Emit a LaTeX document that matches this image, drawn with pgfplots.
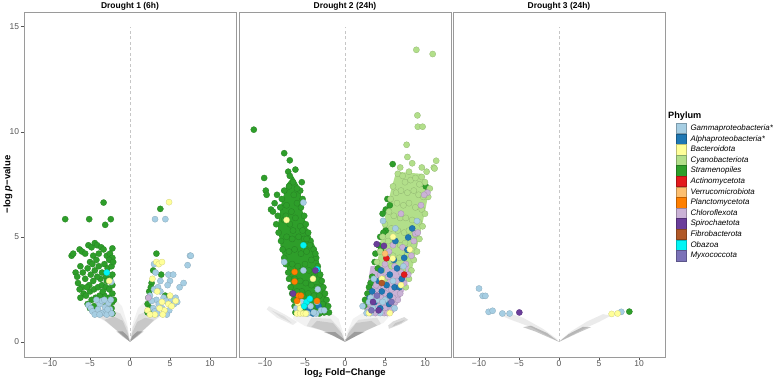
\documentclass[border=0pt]{standalone}
\usepackage{fontspec}
\setmainfont{Liberation Sans}
\usepackage{pgfplots}
\pgfplotsset{compat=1.18}

% Phylum palette
\definecolor{gammaC}{HTML}{A6CEE3}
\definecolor{alphaC}{HTML}{1F78B4}
\definecolor{bactC}{HTML}{FFFF99}
\definecolor{cyanoC}{HTML}{B2DF8A}
\definecolor{stramC}{HTML}{2E9E2A}
\definecolor{actinoC}{HTML}{E31A1C}
\definecolor{verruC}{HTML}{FDBF6F}
\definecolor{planctoC}{HTML}{FF7F00}
\definecolor{chloroC}{HTML}{CAB2D6}
\definecolor{spiroC}{HTML}{6A3D9A}
\definecolor{fibroC}{HTML}{B15928}
\definecolor{obazoaC}{HTML}{00F5F5}
\definecolor{myxoC}{HTML}{7B72B8}
\definecolor{framegray}{HTML}{9A9A9A}
\definecolor{tickgray}{HTML}{555555}

\pgfplotsset{
  panel/.style={
    scale only axis, width=212bp, height=345bp,
    xmin=-13.25, xmax=13.25, ymin=-0.72, ymax=15.7,
    xtick={-10,-5,0,5,10}, xticklabels={−10,−5,0,5,10},
    ytick={0,5,10,15}, yticklabels={0,5,10,15},
    /pgf/number format/assume math mode=true,
    tick align=outside, xtick pos=left, ytick pos=left,
    major tick length=3bp,
    tick style={tickgray, line width=0.5pt},
    axis line style={framegray, line width=0.9pt},
    ticklabel style={font=\fontsize{8.5}{9}\selectfont, text=tickgray},
    xticklabel style={yshift=2.8bp},
    yticklabel style={xshift=1.5bp},
    title style={font=\bfseries\fontsize{8.5}{9}\selectfont, at={(0.5,1)},
      anchor=base, yshift=-2bp, inner sep=0pt},
    anchor=south west,
  },
  phy/.style={only marks, mark=*, mark size=3.1bp, forget plot,
    mark options={fill=#1, draw=#1!80!black, line width=0.25pt}},
  cloud/.style={fill=black, fill opacity=#1, draw=none, forget plot},
  body/.style={fill=#1, draw=none, forget plot},
  zeroline/.style={forget plot, gray!45, line width=0.6pt, dash pattern=on 3bp off 2.5bp},
  legkey/.style={legend image code/.code={%
    \fill[fill=#1, draw=#1!75!black, line width=0.3pt] (0bp,-5.15bp) rectangle (10bp,5.15bp);}},
}

\begin{document}
\begin{tikzpicture}
\useasboundingbox (0,0) rectangle (776bp,380bp);

% ---------------- Drought 1 (6h) ----------------
\begin{axis}[panel, at={(24bp,23bp)}, title={Drought 1 (6h)},
  ylabel={\bfseries −log \textit{p}−value},
  ylabel style={font=\fontsize{9.5}{10}\selectfont, at={(axis description cs:-0.0755,0.5)},
    anchor=center}]
% non-significant cloud
\addplot[cloud=0.05] coordinates {(0,0) (-1.5,0.5) (-3.2,1.0) (-4.8,1.3) (-4.0,1.8) (-2.0,2.1) (-1.0,1.7) (-0.35,0.9) (-0.05,0.15)} --cycle;
\addplot[cloud=0.05] coordinates {(0,0) (1.5,0.5) (3.0,1.0) (4.2,1.3) (3.5,1.8) (2.0,2.0) (1.0,1.6) (0.35,0.9) (0.05,0.15)} --cycle;
\addplot[cloud=0.08] coordinates {(0,0) (-1.4,0.45) (-2.9,0.95) (-3.9,1.2) (-2.6,1.55) (-1.2,1.35) (-0.35,0.7)} --cycle;
\addplot[cloud=0.08] coordinates {(0,0) (1.4,0.45) (2.8,0.95) (3.6,1.2) (2.4,1.5) (1.1,1.3) (0.35,0.7)} --cycle;
\addplot[cloud=0.10] coordinates {(0,0) (-1.2,0.4) (-2.6,0.85) (-3.2,1.05) (-2.0,1.2) (-0.9,1.0) (-0.3,0.45)} --cycle;
\addplot[cloud=0.10] coordinates {(0,0) (1.2,0.4) (2.5,0.85) (3.0,1.05) (1.9,1.15) (0.9,0.95) (0.3,0.45)} --cycle;
\addplot[cloud=0.22] coordinates {(0,0) (-0.8,0.22) (-1.7,0.5) (-0.9,0.5) (-0.3,0.28)} --cycle;
\addplot[cloud=0.22] coordinates {(0,0) (0.8,0.22) (1.7,0.5) (0.9,0.5) (0.3,0.28)} --cycle;
\addplot[zeroline] coordinates {(0,0) (0,15)};
% Stramenopiles
\addplot[phy=stramC] coordinates {
(-8.1,5.84) (-5.1,5.84) (-3.3,6.63) (-3.1,5.57) (-2.4,5.84)
(-7.3,4.1) (-7.1,4.2) (-6.3,4.4) (-6.0,4.3) (-5.2,4.6) (-4.8,4.5) (-4.4,4.7) (-4.1,4.6) (-3.6,4.5) (-3.3,4.4) (-2.2,4.45)
(-5.6,4.2) (-4.6,4.1) (-3.9,4.2) (-2.9,4.1) (-2.5,4.2) (-2.2,4.0) (-2.6,3.9)
(-6.8,3.3) (-6.6,3.1) (-6.2,3.6) (-5.9,3.3) (-5.6,3.0) (-5.3,3.5) (-5.0,3.8) (-4.7,3.7) (-4.4,3.4) (-4.2,3.9) (-3.9,3.6)
(-3.5,3.3) (-3.2,3.7) (-2.8,3.5) (-2.3,3.6) (-2.2,3.2) (-2.5,3.0) (-3.0,3.1) (-3.7,3.0) (-4.1,3.1) (-4.6,2.9) (-5.1,2.7)
(-6.0,2.6) (-6.3,2.5) (-6.5,2.8) (-5.8,2.3) (-6.2,2.1) (-5.5,2.2) (-5.0,2.4) (-4.5,2.5) (-4.0,2.6) (-3.5,2.7) (-3.0,2.6)
(-2.6,2.5) (-2.2,2.7) (-2.2,2.3) (-2.6,2.1) (-3.2,2.2) (-3.8,2.2) (-4.3,2.1) (-4.8,2.0) (-5.3,1.8) (-5.0,1.6) (-4.5,1.7)
(-2.2,1.9) (-2.3,1.6) (-2.2,1.35) (-2.6,1.4) (-3.0,1.7) (-2.0,2.0) (-2.1,3.8) (-2.9,2.9) (-3.4,2.4) (-4.9,3.2) (-5.4,2.6)
(3.79,6.33) (3.3,4.2) (2.9,3.4) (3.9,3.2) (2.7,2.8) (2.4,2.4) (2.3,2.1) (2.2,1.8) (2.2,1.4) (2.5,1.6) (4.4,2.2) (2.6,2.6) (2.8,1.35)
};
% Gammaproteobacteria
\addplot[phy=gammaC] coordinates {
(-5.2,1.75) (-4.9,1.6) (-4.7,1.45) (-4.4,1.3) (-4.0,1.55) (-3.8,1.8) (-3.5,1.95) (-3.3,1.4) (-3.1,1.65) (-2.9,1.3)
(-2.7,1.85) (-2.5,1.55) (-2.4,2.0) (-3.6,1.35) (-4.2,2.0) (-2.3,1.35) (-2.8,1.55) (-2.35,2.85) (-3.8,1.3) (-3.2,2.0)
(3.13,5.84) (4.42,5.84) (7.5,4.1) (7.6,4.1) (7.2,3.65) (3.0,3.7) (3.2,3.3) (4.8,3.2) (5.4,3.2) (5.0,2.9) (4.7,2.7)
(6.2,2.6) (6.7,2.8) (3.0,2.5) (3.5,2.6) (3.8,2.4) (4.2,2.1) (3.3,2.0) (2.7,1.95) (2.9,1.6) (3.1,1.45) (3.6,1.8)
(4.0,1.6) (4.5,1.95) (5.2,2.0) (5.7,2.1) (5.9,1.9) (4.9,1.5) (3.4,1.35) (4.6,1.3) (5.5,1.8) (3.8,2.9) (2.5,2.2)
};
% Bacteroidota
\addplot[phy=bactC] coordinates {
(-2.6,2.9)
(4.88,6.65) (3.3,3.8) (3.6,3.7) (4.0,3.8) (2.8,3.0) (3.4,2.4) (4.0,1.9) (4.3,1.5) (4.8,1.8) (5.2,1.7) (5.7,1.95)
(3.1,1.3) (2.2,1.5) (2.5,1.3) (4.1,1.3) (5.0,2.2) (3.7,1.6)
};
\addplot[phy=obazoaC] coordinates {(-2.9,3.3)};
\addplot[phy=chloroC] coordinates {(2.3,2.1)};
\end{axis}

% ---------------- Drought 2 (24h) ----------------
\begin{axis}[panel, at={(239bp,23bp)}, title={Drought 2 (24h)}, ytick=\empty,
  xlabel={\bfseries log\textsubscript{2} Fold−Change},
  xlabel style={font=\fontsize{9.5}{10}\selectfont, at={(axis description cs:0.5,0)},
    anchor=center, yshift=-16.5bp}]
\addplot[cloud=0.05] coordinates {(0,0) (-3,0.55) (-5,0.75) (-6.5,1.1) (-6.3,1.4) (-4,1.5) (-2,1.45) (-0.8,1.1) (-0.2,0.4)} --cycle;
\addplot[cloud=0.07] coordinates {(-9.8,1.55) (-8.5,1.15) (-6.5,0.8) (-6.0,0.95) (-7.5,1.3) (-9.5,1.7)} --cycle;
\addplot[cloud=0.07] coordinates {(-9.2,1.5) (-8.0,1.15) (-6.6,0.88) (-7.6,1.22)} --cycle;
\addplot[cloud=0.08] coordinates {(0,0) (-2.8,0.55) (-4.8,0.75) (-4.2,1.15) (-1.8,1.1) (-0.6,0.6)} --cycle;
\addplot[cloud=0.10] coordinates {(0,0) (-2.5,0.5) (-4.2,0.72) (-3.5,1.0) (-1.5,0.9) (-0.4,0.4)} --cycle;
\addplot[cloud=0.22] coordinates {(0,0) (-1.5,0.3) (-2.6,0.46) (-1.2,0.46) (-0.2,0.15)} --cycle;
\addplot[cloud=0.05] coordinates {(0,0) (3,0.6) (4.8,0.9) (5.5,1.2) (4.5,1.45) (2.5,1.45) (1,1.1) (0.2,0.4)} --cycle;
\addplot[cloud=0.14] coordinates {(5.5,0.62) (7.0,0.85) (7.9,1.05) (7.4,1.18) (6.0,0.97) (5.4,0.78)} --cycle;
\addplot[cloud=0.10] coordinates {(5.9,0.72) (7.0,0.9) (7.5,1.05) (6.3,0.9)} --cycle;
\addplot[cloud=0.08] coordinates {(0,0) (2.7,0.55) (4.5,0.85) (4.0,1.15) (1.7,1.05) (0.6,0.6)} --cycle;
\addplot[cloud=0.10] coordinates {(0,0) (2.4,0.5) (4.0,0.78) (3.3,1.0) (1.4,0.9) (0.4,0.4)} --cycle;
\addplot[cloud=0.22] coordinates {(0,0) (1.5,0.3) (2.5,0.48) (1.2,0.48) (0.2,0.15)} --cycle;
\addplot[zeroline] coordinates {(0,0) (0,15)};
% dense cores
\addplot[body=stramC] coordinates {(-6.1,1.3) (-6.4,2.0) (-7.0,3.2) (-8.0,4.4) (-8.4,5.5) (-8.0,6.5) (-7.3,7.5) (-6.5,7.9)
  (-5.6,7.3) (-5.3,6.2) (-4.7,5.4) (-3.6,4.4) (-2.9,3.2) (-2.3,2.0) (-1.9,1.3)} --cycle;
\addplot[body=cyanoC] coordinates {(6.4,8.1) (9.5,8.0) (10.5,7.2) (10.0,6.2) (9.3,5.0) (8.7,4.0) (8.1,3.0) (4.0,3.6) (4.5,5.0) (5.2,6.3) (5.8,7.3)} --cycle;
\addplot[body=chloroC] coordinates {(3.2,3.6) (8.0,3.6) (7.6,2.6) (6.8,2.0) (6.0,1.35) (2.5,1.35) (2.6,2.2)} --cycle;
% Stramenopiles
\addplot[phy=stramC] coordinates {
(-11.4,10.1) (-7.6,8.98) (-6.9,8.64) (-7.1,8.1) (-6.5,7.6) (-6.9,7.9) (-10.1,7.8) (-9.9,7.2) (-9.8,7.0) (-8.5,7.0)
(-9.25,6.3) (-9.0,6.2) (-8.8,6.6) (-6.2,8.2)
(-8.4,6.0) (-8.6,5.6) (-8.3,5.2) (-8.0,4.8) (-7.8,4.4) (-7.6,4.0) (-7.4,3.7) (-7.1,3.3) (-7.0,3.0) (-6.8,2.6) (-6.6,2.3)
(-6.4,2.0) (-6.3,1.7) (-6.2,1.4) (-7.9,6.8) (-7.6,7.2) (-8.1,6.4)
(-5.4,7.6) (-5.6,7.2) (-5.3,6.8) (-5.5,6.4) (-5.1,6.0) (-4.9,5.6) (-4.6,5.2) (-4.3,4.8) (-3.9,4.4) (-3.6,4.0) (-3.4,3.6)
(-3.1,3.2) (-2.9,2.9) (-2.7,2.6) (-2.5,2.3) (-2.3,2.0) (-2.1,1.7) (-2.0,1.4) (-4.4,4.6) (-3.7,4.2)
(-7.0,7.4) (-6.4,7.0) (-6.0,7.3) (-7.3,6.5) (-6.7,6.2) (-6.0,6.6) (-7.6,5.8) (-6.9,5.6) (-6.2,5.9) (-5.6,5.5) (-7.3,5.0)
(-6.6,4.9) (-5.8,5.0) (-5.1,4.9) (-7.0,4.3) (-6.3,4.4) (-5.5,4.2) (-4.8,4.3) (-4.2,3.9) (-6.6,3.7) (-5.9,3.6) (-5.0,3.7)
(-4.5,3.4) (-3.9,3.1) (-6.3,3.0) (-5.6,2.9) (-4.9,2.8) (-4.2,2.7) (-3.5,2.6) (-3.2,2.2) (-3.9,2.2) (-4.6,2.3) (-5.4,2.4)
(-6.0,2.4) (-5.8,1.8) (-5.0,1.7) (-4.3,1.6) (-3.6,1.7) (-2.8,1.8) (-2.6,1.4) (-3.2,1.35) (-7.4,6.0) (-6.5,5.3) (-5.3,5.3)
(-4.8,4.9)
(5.96,8.46) (10.1,7.4) (5.3,6.8) (5.6,6.5) (5.1,6.3) (4.7,6.1) (5.1,5.3) (4.8,5.2) (4.2,4.6) (4.5,4.4) (3.7,3.8)
(4.1,3.5) (3.4,3.1) (3.2,2.8) (2.8,2.3) (2.5,2.0) (2.4,1.7) (3.0,2.6) (4.4,5.0) (3.8,4.2)
};
% Cyanobacteriota
\addplot[phy=cyanoC] coordinates {
(8.92,13.9) (10.96,13.7) (9.05,10.78) (9.1,10.24) (9.7,10.24) (7.7,9.38) (7.8,8.8) (11.4,8.62) (11.1,8.3) (11.2,8.25)
(9.6,8.3) (10.2,8.1) (6.9,8.3) (8.4,8.5) (8.0,8.1) (9.6,7.85)
(6.6,8.0) (7.2,7.9) (7.5,7.6) (8.2,7.7) (8.8,7.8) (9.3,7.5) (10.0,7.6) (10.6,7.3) (10.4,6.9) (6.0,7.4) (6.4,7.1)
(7.0,7.2) (7.8,7.1) (8.6,7.2) (9.2,7.0) (9.8,6.9) (5.7,6.8) (6.5,6.6) (7.3,6.5) (8.0,6.6) (8.8,6.4) (9.6,6.3)
(10.0,6.1) (5.5,6.2) (6.1,6.0) (6.9,5.9) (7.6,5.9) (8.4,5.8) (9.2,5.7) (9.7,5.5) (5.0,5.6) (5.8,5.4) (6.6,5.3)
(7.4,5.2) (8.0,5.3) (8.8,5.1) (9.3,4.9) (4.7,5.0) (5.4,4.8) (6.9,4.6) (7.5,4.7) (8.6,4.6) (9.0,4.3) (4.4,4.3)
(5.2,4.2) (6.0,4.1) (6.8,4.0) (7.8,4.2) (8.6,3.9) (4.0,3.8) (5.8,3.6) (7.2,3.4) (8.3,3.4) (8.0,3.0) (7.6,2.6)
(5.0,3.0) (4.6,3.4)
};
% Chloroflexota
\addplot[phy=chloroC] coordinates {
(7.0,6.1) (10.3,7.1) (9.9,7.0) (8.8,5.15) (9.1,5.2) (7.2,4.5) (6.0,4.6) (5.5,4.3) (7.6,3.7) (8.3,4.1) (5.0,3.7)
(6.2,3.6) (7.0,3.3) (4.4,3.2) (5.4,3.1) (6.5,2.9) (7.4,2.8) (3.9,2.7) (4.8,2.6) (5.8,2.5) (6.9,2.3) (3.6,2.2)
(4.5,2.1) (5.4,2.0) (6.3,1.9) (3.2,1.8) (4.1,1.7) (5.0,1.6) (5.8,1.5) (3.8,1.37) (4.9,1.37) (5.3,1.37) (2.9,1.5)
(6.6,2.0) (8.6,4.8) (9.5,6.5) (7.9,3.2) (4.0,2.4) (5.1,2.3) (6.0,2.1)
};
% Alphaproteobacteria
\addplot[phy=alphaC] coordinates {
(-4.0,1.35) (-4.5,1.55) (-3.3,1.7)
(8.4,5.4) (7.9,4.97) (6.3,4.8) (7.8,4.38) (6.1,3.9) (7.4,4.0) (4.5,3.4) (5.6,3.2) (6.5,3.5) (7.1,3.0) (4.2,2.9)
(5.2,2.7) (6.2,2.6) (3.4,2.4) (4.6,2.4) (5.6,2.2) (3.7,1.9) (4.4,1.6) (5.5,1.8) (3.1,2.1) (6.8,2.6)
};
% Gammaproteobacteria
\addplot[phy=gammaC] coordinates {
(-5.2,6.63) (-7.6,3.8) (-5.2,3.4) (-3.4,2.5) (-5.4,1.9) (-4.3,1.7) (-3.6,1.35) (-3.0,1.5) (-4.7,1.35) (-3.9,1.4)
(-3.5,1.9) (-6.1,1.6) (-2.6,1.5)
(4.75,5.76) (9.0,5.75) (6.3,5.4) (3.2,2.1) (2.2,1.7) (2.8,1.4) (2.7,1.37) (3.2,1.37) (4.4,1.37) (3.6,3.0) (4.0,2.0)
(5.0,2.0) (3.0,1.9) (4.7,1.9) (6.0,2.9) (7.3,3.6) (5.3,4.0) (3.5,1.6) (6.2,1.6)
};
% Bacteroidota
\addplot[phy=bactC] coordinates {
(-7.3,5.8) (-4.0,3.0) (-6.0,1.35) (-5.6,1.35) (-5.2,1.35) (-4.9,1.35) (-5.6,1.6) (-5.9,1.85)
(6.0,5.0) (5.96,3.97) (8.1,4.4) (3.0,1.37) (5.6,1.37) (4.6,3.0) (7.0,2.7)
};
\addplot[phy=obazoaC] coordinates {(-5.2,4.6) (-3.5,3.45) (-4.8,1.9) (-4.4,2.05) (-5.1,1.7)};
\addplot[phy=planctoC] coordinates {(-6.3,3.33) (-6.3,2.87) (-5.8,2.2) (-5.5,2.2) (-3.5,1.95) (-6.0,1.95)};
\addplot[phy=spiroC] coordinates {(-3.7,3.4) (-6.5,2.3) (3.96,4.65) (4.87,4.57) (3.5,1.9) (4.2,1.5)};
\addplot[phy=actinoC] coordinates {(5.17,3.98) (7.4,3.2)};
\addplot[phy=verruC] coordinates {(5.0,4.2)};
\addplot[phy=myxoC] coordinates {(4.0,2.2) (5.8,1.9) (3.3,1.5)};
\addplot[phy=fibroC] coordinates {(4.6,2.8)};
\end{axis}

% ---------------- Drought 3 (24h) ----------------
\begin{axis}[panel, at={(453bp,23bp)}, title={Drought 3 (24h)}, ytick=\empty,
  legend cell align=left,
  legend style={at={(1.052,0.6787)}, anchor=north west, draw=none, fill=none,
    inner sep=0pt, row sep=0pt,
    font=\fontsize{8}{9}\selectfont\itshape,
    nodes={inner sep=0pt, text height=6bp, text depth=1.6bp},
    /tikz/every odd column/.append style={column sep=4bp}}]
\addplot[cloud=0.08] coordinates {(0,0) (-3.5,0.7) (-6,1.05) (-7.5,1.3) (-6.5,1.4) (-4.5,1.15) (-2,0.62) (-0.3,0.15)} --cycle;
\addplot[cloud=0.22] coordinates {(0,0) (-3,0.5) (-4.5,0.7) (-3.5,0.77) (-1.5,0.42)} --cycle;
\addplot[cloud=0.08] coordinates {(0,0) (3,0.6) (5,0.95) (6.5,1.25) (5.5,1.32) (3.5,0.97) (1.5,0.5) (0.3,0.12)} --cycle;
\addplot[cloud=0.22] coordinates {(0,0) (2.5,0.45) (4,0.7) (3,0.72) (1.2,0.37)} --cycle;
\addplot[zeroline] coordinates {(0,0) (0,15)};
\addplot[phy=gammaC] coordinates {(-10.0,2.54) (-9.54,2.19) (-9.2,2.19) (-8.8,1.43) (-8.3,1.48) (-7.08,1.35) (-6.17,1.35) (7.79,1.43)};
\addplot[phy=spiroC] coordinates {(-4.96,1.40)};
\addplot[phy=bactC] coordinates {(6.58,1.33) (7.33,1.35)};
\addplot[phy=stramC] coordinates {(8.79,1.44)};
% legend keys
\addlegendimage{legkey=gammaC}\addlegendentry{Gammaproteobacteria*}
\addlegendimage{legkey=alphaC}\addlegendentry{Alphaproteobacteria*}
\addlegendimage{legkey=bactC}\addlegendentry{Bacteroidota}
\addlegendimage{legkey=cyanoC}\addlegendentry{Cyanobacteriota}
\addlegendimage{legkey=stramC}\addlegendentry{Stramenopiles}
\addlegendimage{legkey=actinoC}\addlegendentry{Actinomycetota}
\addlegendimage{legkey=verruC}\addlegendentry{Verrucomicrobiota}
\addlegendimage{legkey=planctoC}\addlegendentry{Planctomycetota}
\addlegendimage{legkey=chloroC}\addlegendentry{Chloroflexota}
\addlegendimage{legkey=spiroC}\addlegendentry{Spirochaetota}
\addlegendimage{legkey=fibroC}\addlegendentry{Fibrobacterota}
\addlegendimage{legkey=obazoaC}\addlegendentry{Obazoa}
\addlegendimage{legkey=myxoC}\addlegendentry{Myxococcota}
\end{axis}

\node[anchor=base west, inner sep=0pt, font=\bfseries\fontsize{9.2}{10}\selectfont] at (668bp,261bp) {Phylum};
\end{tikzpicture}
\end{document}
